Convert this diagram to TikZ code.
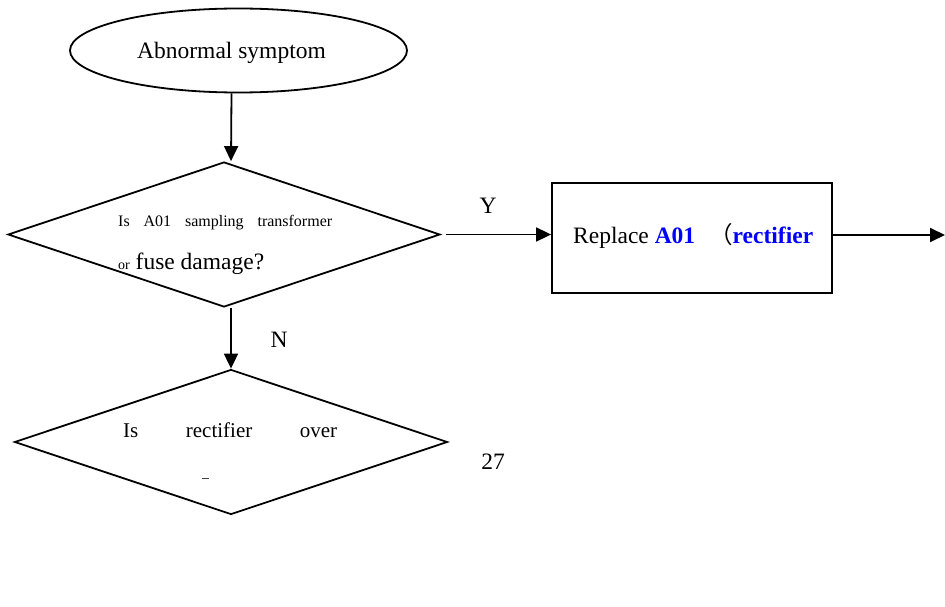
\documentclass[tikz,border=0pt]{standalone}
\usepackage{fontspec}
\setmainfont{Liberation Serif}
\newfontfamily\cjk{Noto Sans CJK SC}
\usetikzlibrary{shapes.geometric,arrows.meta,calc}
\tikzset{
  shp/.style={draw=black, line width=1.8pt, inner sep=0pt},
  decision/.style={shp, diamond},
  arr/.style={line width=1.8pt, -{Triangle[length=15pt,width=14pt]}},
  txt/.style={inner sep=0pt, anchor=base west, text=black},
  big/.style={font=\fontsize{23.5}{28}\selectfont},
}
\begin{document}
\begin{tikzpicture}[x=1pt,y=-1pt]
\useasboundingbox (0,0) rectangle (945,607);
\fill[white] (0,0) rectangle (945,607);
% shapes
\node[shp, ellipse, minimum width=337pt, minimum height=84pt] (start) at (238.5,50.5) {};
\node[decision, minimum width=432pt, minimum height=145pt] (d1) at (224,234.5) {};
\node[decision, minimum width=433pt, minimum height=145pt] (d2) at (231,442) {};
\node[shp, rectangle, minimum width=280pt, minimum height=110pt] (box) at (692,238) {};
\coordinate (out) at (945,235);
% texts
\node[txt, big, anchor=base] (tstart) at (231.5,59) {Abnormal symptom};
\node[txt, font=\fontsize{16}{19}\selectfont] (t1a) at (118,226) {\makebox[214pt][s]{Is A01 sampling transformer}};
\node[txt, big] (t1b) at (118,269) {{\fontsize{14}{17}\selectfont or} fuse damage?};
\node[txt, font=\fontsize{21}{25}\selectfont] (t2a) at (123,437) {\makebox[214pt][s]{Is rectifier over}};
\node[txt, big] (tbox) at (573,243) {Replace \textbf{\color{blue}A01}\hspace{14pt}{\cjk （}\textbf{\color{blue}rectifier}};
\node[txt, big, anchor=base] (ly) at (488,213) {Y};
\node[txt, big, anchor=base] (ln) at (279,347) {N};
\node[txt, big, anchor=base] (pg) at (493,469) {27};
\draw[line width=1pt, black!75] (201.5,478) -- (208.5,478);
% connectors
\draw[arr] ($(start.south)+(-7,0)$) -- (d2.north |- d1.north);
\draw[arr] ($(d1.east)+(5,0)$) -- (d1.east -| box.west);
\draw[arr] (box.east |- out) -- (out);
\draw[arr] (d2.north |- d1.south) -- (d2.north);
\end{tikzpicture}
\end{document}
